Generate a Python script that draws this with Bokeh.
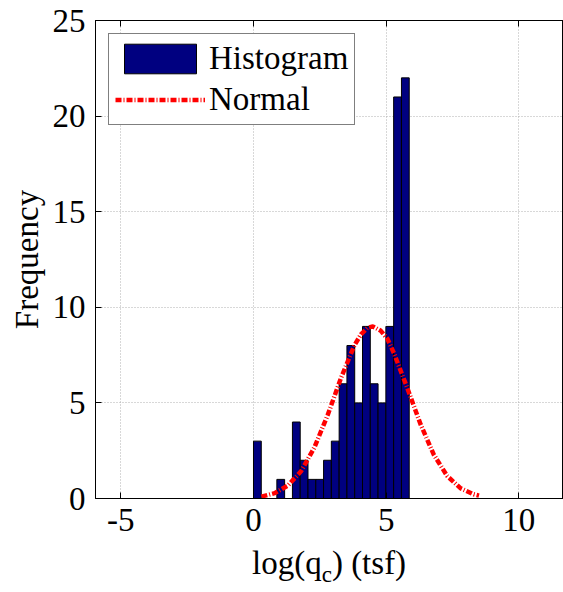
import numpy as np
from bokeh.plotting import figure
from bokeh.models import Range1d, LinearAxis, FixedTicker, Legend, Div
from bokeh.layouts import column
from bokeh.embed import file_html
from bokeh.resources import INLINE

# ---- data ----
bin_lo = 0.0
bin_hi = 5.87
counts = [3, 0, 0, 1, 0, 4, 2, 1, 1, 2, 3, 6, 8, 5, 9, 6, 5, 9, 21, 22]
normal_x = [0.3, 0.8, 1.3, 1.8, 2.3, 2.8, 3.3, 3.8, 4.05, 4.3, 4.5, 4.8, 5.05,
            5.3, 5.8, 6.3, 6.8, 7.3, 7.8, 8.3, 8.5]
normal_y = [0.10, 0.28, 0.68, 1.44, 2.68, 4.38, 6.31, 8.00, 8.58, 8.93, 9.00,
            8.77, 8.35, 7.58, 5.77, 3.87, 2.28, 1.18, 0.54, 0.22, 0.15]
x_ticks = [-5, 0, 5, 10]
y_ticks = [0, 5, 10, 15, 20, 25]

FONT = "Liberation Serif"
FS = "33px"

edges = np.linspace(bin_lo, bin_hi, len(counts) + 1)

p = figure(width=563, height=545, output_backend="svg", toolbar_location=None,
           x_range=Range1d(-5.955, 11.685), y_range=Range1d(0, 25),
           min_border_left=95, min_border_top=20, min_border_right=0,
           min_border_bottom=47)
p.background_fill_color = "white"
p.border_fill_color = "white"
p.outline_line_color = "black"
p.outline_line_width = 1

r_hist = p.quad(left=edges[:-1], right=edges[1:], bottom=0, top=counts,
                fill_color="#000080", line_color="black", line_width=1)
r_norm = p.line(normal_x, normal_y, line_color="#ff0000", line_width=4.5,
                line_dash="6 2 1 2")

for ax in (p.xaxis[0], p.yaxis[0]):
    ax.major_tick_in = 6
    ax.major_tick_out = 0
    ax.minor_tick_in = 0
    ax.minor_tick_out = 0
    ax.axis_line_color = "black"
    ax.major_tick_line_color = "black"
    ax.major_label_text_font = FONT
    ax.major_label_text_font_size = FS
    ax.major_label_text_color = "black"
    ax.major_label_standoff = 10
p.xaxis[0].ticker = FixedTicker(ticks=x_ticks)
p.yaxis[0].ticker = FixedTicker(ticks=y_ticks)
p.xaxis[0].major_label_overrides = {-5: "-5"}

p.yaxis[0].axis_label = "Frequency"
p.yaxis[0].axis_label_text_font = FONT
p.yaxis[0].axis_label_text_font_size = FS
p.yaxis[0].axis_label_text_font_style = "normal"
p.yaxis[0].axis_label_text_color = "black"
p.yaxis[0].axis_label_standoff = 5

top_ax = LinearAxis(ticker=FixedTicker(ticks=x_ticks), major_tick_in=6,
                    major_tick_out=0, minor_tick_in=0, minor_tick_out=0,
                    major_label_text_color=None, major_label_text_font_size="0px",
                    axis_line_color="black")
p.add_layout(top_ax, "above")

p.xgrid.ticker = FixedTicker(ticks=x_ticks)
p.ygrid.ticker = FixedTicker(ticks=y_ticks)
p.grid.grid_line_color = "#b0b0b0"
p.grid.grid_line_dash = "1 2"
p.grid.grid_line_width = 1

legend = Legend(items=[("Histogram", [r_hist]), ("Normal", [r_norm])],
                location="top_left", margin=13, padding=6, spacing=4,
                glyph_width=90, glyph_height=37, label_height=37,
                label_standoff=4, label_text_font=FONT, label_text_font_size=FS,
                label_text_color="black",
                border_line_color="black", border_line_width=1,
                background_fill_color="white", background_fill_alpha=1)
p.add_layout(legend)

xlabel = Div(
    text=("<div style=\"margin-left:252px; font-family:'Liberation Serif'; "
          "font-size:33px; line-height:36px; color:black; white-space:nowrap;\">"
          "log(q<sub style=\"font-size:23px; vertical-align:-8px; line-height:0;\">c</sub>) (tsf)</div>"),
    width=563, height=47, styles={"margin": "0", "padding": "0"})

layout = column(p, xlabel, spacing=0)
open("out.html", "w").write(file_html(layout, INLINE))
